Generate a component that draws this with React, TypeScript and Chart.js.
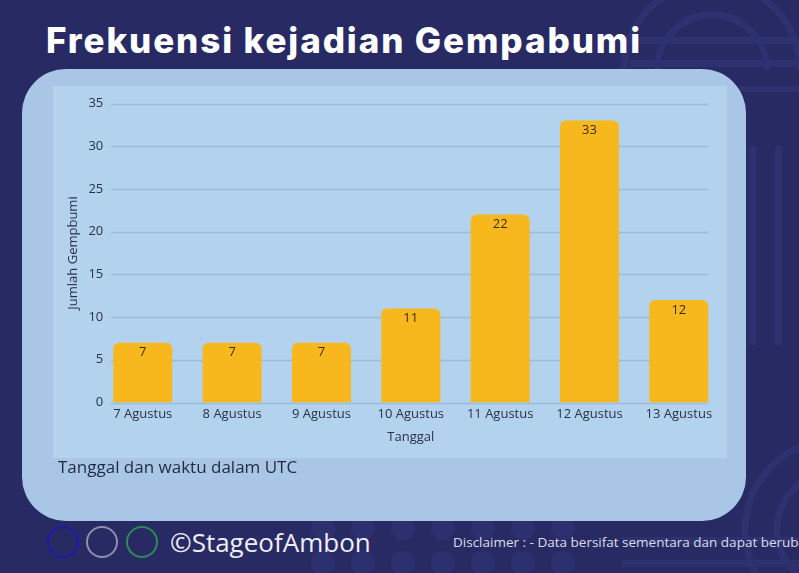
import React, { useEffect, useRef } from 'react';
import { Chart, registerables } from 'chart.js';

Chart.register(...registerables);

// ---- data ----
const categories = ['7 Agustus', '8 Agustus', '9 Agustus', '10 Agustus', '11 Agustus', '12 Agustus', '13 Agustus'];
const counts = [7, 7, 7, 11, 22, 33, 12];
const yMin = 0;
const yMax = 35;
const yStep = 5;

const titleText = 'Frekuensi kejadian Gempabumi';
const xAxisTitle = 'Tanggal';
const yAxisTitle = 'Jumlah Gempbumi';
const noteText = 'Tanggal dan waktu dalam UTC';
const brandText = '©StageofAmbon';
const disclaimerText = 'Disclaimer : - Data bersifat sementara dan dapat berubah';

const BAR_COLOR = '#f6b81c';
const GRID_COLOR = '#9cbbdb';
const TEXT_DARK = '#2b3246';
const FONT = '"Open Sans", "Noto Sans", sans-serif';

const customPlugin = {
  id: 'customGridLabels',
  beforeDatasetsDraw(chart: any) {
    const meta = chart.getDatasetMeta(0);
    const bars = meta.data;
    if (!bars.length) return;
    const first = bars[0];
    const last = bars[bars.length - 1];
    const left = first.x - first.width / 2 - 2;
    const right = last.x + last.width / 2;
    const ys = chart.scales.y;
    const ctx = chart.ctx;
    ctx.save();
    ctx.strokeStyle = GRID_COLOR;
    ctx.lineWidth = 1.5;
    ys.ticks.forEach((t: any) => {
      const py = Math.round(ys.getPixelForValue(t.value)) + 0.5;
      ctx.beginPath();
      ctx.moveTo(left, py);
      ctx.lineTo(right, py);
      ctx.stroke();
    });
    // y tick labels, placed just right of the y scale box
    ctx.fillStyle = TEXT_DARK;
    ctx.font = `13px ${FONT}`;
    ctx.textAlign = 'right';
    ctx.textBaseline = 'middle';
    ys.ticks.forEach((t: any) => {
      ctx.fillText(String(t.value), ys.right + 5.2, ys.getPixelForValue(t.value));
    });
    ctx.restore();
  },
  afterDatasetsDraw(chart: any) {
    const meta = chart.getDatasetMeta(0);
    const ctx = chart.ctx;
    ctx.save();
    ctx.fillStyle = '#3a2b14';
    ctx.font = `13px ${FONT}`;
    ctx.textAlign = 'center';
    ctx.textBaseline = 'middle';
    meta.data.forEach((bar: any, i: number) => {
      ctx.fillText(String(chart.data.datasets[0].data[i]), bar.x, bar.y + 10);
    });
    ctx.restore();
  },
};

function BarChart() {
  const ref = useRef<HTMLCanvasElement | null>(null);
  useEffect(() => {
    if (!ref.current) return;
    const chart = new Chart(ref.current, {
      type: 'bar',
      data: {
        labels: categories,
        datasets: [
          {
            data: counts,
            backgroundColor: BAR_COLOR,
            borderRadius: { topLeft: 6, topRight: 6, bottomLeft: 0, bottomRight: 0 },
            borderSkipped: 'bottom',
            categoryPercentage: 1,
            barPercentage: 0.66,
          },
        ],
      },
      options: {
        responsive: false,
        animation: false,
        devicePixelRatio: 1,
        layout: { padding: { left: 0, right: 3.5, top: 17.5, bottom: 0 } },
        plugins: {
          legend: { display: false },
          tooltip: { enabled: false },
          title: { display: false },
        },
        scales: {
          x: {
            grid: { display: false, drawTicks: false },
            border: { display: false },
            ticks: {
              color: TEXT_DARK,
              font: { family: FONT, size: 13 },
              padding: 4,
              maxRotation: 0,
              autoSkip: false,
            },
            title: {
              display: true,
              text: xAxisTitle,
              color: TEXT_DARK,
              font: { family: FONT, size: 13 },
              padding: { top: 0, bottom: 13 },
            },
            afterFit: (scale: any) => {
              scale.height = 55.5;
            },
          },
          y: {
            min: yMin,
            max: yMax,
            grid: { display: false, drawTicks: false },
            border: { display: false },
            ticks: {
              display: false,
              stepSize: yStep,
            },
            title: {
              display: true,
              text: yAxisTitle,
              color: TEXT_DARK,
              font: { family: FONT, size: 13 },
              padding: { top: 12, bottom: 0 },
            },
            afterFit: (scale: any) => {
              scale.width = 45.1;
            },
          },
        },
      } as any,
      plugins: [customPlugin],
    });
    return () => chart.destroy();
  }, []);
  return <canvas ref={ref} width={674} height={372} style={{ width: 674, height: 372, display: 'block' }} />;
}

function Decorations() {
  const deco = '#2e3170';
  const dotCols = [323, 363, 403, 443, 483, 523, 563];
  const dotRows = [493, 528, 563];
  const arc = (cx: number, cy: number, r: number) => `M ${cx - r} ${cy} A ${r} ${r} 0 0 1 ${cx + r} ${cy}`;
  return (
    <svg width={799} height={573} style={{ position: 'absolute', left: 0, top: 0 }}>
      <path d={arc(712, 70, 88)} fill="none" stroke={deco} strokeWidth={7} />
      <path d={arc(712, 70, 55)} fill="none" stroke={deco} strokeWidth={7} />
      <rect x={630} y={37} width={180} height={7} fill={deco} />
      <rect x={630} y={60} width={180} height={7} fill={deco} />
      <rect x={740} y={86} width={70} height={6} fill={deco} />
      <rect x={749} y={146} width={7} height={199} fill={deco} />
      <rect x={775} y={146} width={7} height={199} fill={deco} />
      <circle cx={835} cy={530} r={90} fill="none" stroke={deco} strokeWidth={7} />
      <circle cx={835} cy={530} r={58} fill="none" stroke={deco} strokeWidth={7} />
      <rect x={622} y={537} width={190} height={7} fill={deco} />
      <rect x={622} y={560} width={190} height={7} fill={deco} />
      {dotRows.map((cy) =>
        dotCols.map((cx) => <circle key={`${cx}-${cy}`} cx={cx} cy={cy} r={12} fill="#2d306e" />)
      )}
    </svg>
  );
}

export default function App() {
  return (
    <div
      style={{
        position: 'absolute',
        left: 0,
        top: 0,
        width: 799,
        height: 573,
        overflow: 'hidden',
        background: '#282a64',
        fontFamily: FONT,
      }}
    >
      <Decorations />
      <div
        style={{
          position: 'absolute',
          left: 46,
          top: 16,
          color: '#ffffff',
          fontFamily: 'Inter, "Open Sans", sans-serif',
          fontWeight: 800,
          fontSize: 35,
          lineHeight: '48px',
          letterSpacing: 1.9,
          whiteSpace: 'nowrap',
        }}
      >
        {titleText}
      </div>
      <div
        style={{
          position: 'absolute',
          left: 22,
          top: 69,
          width: 724,
          height: 452,
          borderRadius: 44,
          background: '#a9c6e6',
        }}
      />
      <div
        style={{
          position: 'absolute',
          left: 53,
          top: 86,
          width: 674,
          height: 372,
          background: '#b3d2ee',
        }}
      >
        <BarChart />
      </div>
      <div
        style={{
          position: 'absolute',
          left: 58,
          top: 455,
          lineHeight: '24px',
          fontSize: 17,
          color: '#1f2a40',
          whiteSpace: 'nowrap',
        }}
      >
        {noteText}
      </div>
      <svg width={130} height={40} style={{ position: 'absolute', left: 44, top: 522 }}>
        <circle cx={19} cy={20} r={15} fill="none" stroke="#1c1ca8" strokeWidth={2} />
        <circle cx={58} cy={20} r={15} fill="none" stroke="#8f90a8" strokeWidth={2} />
        <circle cx={98} cy={20} r={15} fill="none" stroke="#2f8a55" strokeWidth={2} />
      </svg>
      <div
        style={{
          position: 'absolute',
          left: 170,
          top: 524,
          lineHeight: '36px',
          fontSize: 26,
          color: '#eeeef6',
          whiteSpace: 'nowrap',
        }}
      >
        {brandText}
      </div>
      <div
        style={{
          position: 'absolute',
          left: 453,
          top: 532,
          lineHeight: '20px',
          fontSize: 13.5,
          color: '#dcdcea',
          whiteSpace: 'nowrap',
        }}
      >
        {disclaimerText}
      </div>
    </div>
  );
}
